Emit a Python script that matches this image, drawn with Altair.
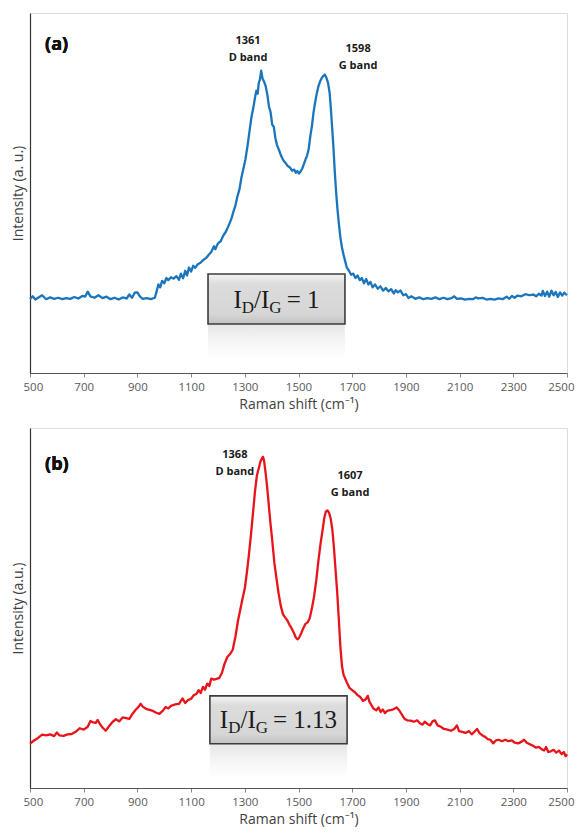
import altair as alt
import pandas as pd

# ---------------- data ----------------
shift_a = [500, 510, 520, 530, 545, 560, 575, 590, 605, 620, 635, 650, 665, 680, 695, 705, 715, 725, 740, 755,
           770, 785, 800, 815, 830, 845, 860, 870, 880, 890, 900, 910, 920, 935, 950, 965, 972, 978, 985, 992,
           1000, 1008, 1015, 1025, 1035, 1045, 1055, 1062, 1070, 1078, 1085, 1092, 1100, 1108, 1115, 1125, 1135, 1145, 1155, 1165,
           1175, 1185, 1190, 1200, 1210, 1220, 1230, 1240, 1250, 1258, 1265, 1272, 1280, 1288, 1295, 1302, 1310, 1318, 1325, 1332,
           1338, 1343, 1348, 1352, 1356, 1361, 1366, 1372, 1378, 1384, 1390, 1396, 1402, 1408, 1414, 1420, 1428, 1436, 1444, 1452,
           1460, 1468, 1476, 1484, 1490, 1496, 1502, 1508, 1514, 1520, 1526, 1532, 1538, 1544, 1550, 1556, 1562, 1568, 1574, 1580,
           1586, 1592, 1598, 1604, 1610, 1616, 1620, 1625, 1630, 1635, 1640, 1645, 1650, 1656, 1662, 1668, 1674, 1680, 1688, 1696,
           1704, 1712, 1720, 1728, 1736, 1744, 1752, 1760, 1768, 1776, 1785, 1795, 1805, 1815, 1825, 1835, 1845, 1855, 1862, 1870,
           1880, 1890, 1900, 1910, 1920, 1935, 1950, 1965, 1980, 1995, 2010, 2025, 2040, 2055, 2070, 2080, 2090, 2105, 2120, 2135,
           2150, 2160, 2170, 2185, 2200, 2215, 2230, 2245, 2260, 2275, 2285, 2295, 2305, 2315, 2330, 2345, 2360, 2375, 2385, 2395,
           2405, 2410, 2418, 2426, 2434, 2442, 2450, 2458, 2466, 2474, 2482, 2490, 2500]
intensity_a = [20.6, 21.3, 20.4, 20.9, 21.6, 20.5, 21.0, 20.6, 20.9, 20.5, 20.8, 20.6, 21.1, 20.7, 21.4, 21.2, 22.6, 21.3, 20.9, 21.6,
               20.8, 21.2, 20.5, 20.9, 20.4, 21.0, 20.7, 21.8, 20.9, 22.3, 22.4, 21.2, 20.6, 20.8, 20.5, 20.9, 22.8, 24.6, 23.8, 25.6,
               24.9, 26.4, 25.8, 26.6, 26.2, 26.9, 25.9, 27.6, 26.3, 28.4, 27.1, 29.3, 28.2, 29.8, 29.2, 30.2, 30.6, 31.4, 31.9, 32.8,
               33.6, 35.2, 34.4, 36.0, 36.6, 38.2, 39.3, 41.0, 42.8, 44.9, 46.5, 48.9, 51.0, 54.5, 56.8, 59.2, 63.0, 67.4, 71.2, 73.8,
               76.5, 78.4, 77.6, 80.6, 81.4, 84.0, 81.8, 80.9, 79.6, 77.3, 74.0, 72.5, 69.0, 68.4, 65.2, 63.3, 61.8, 60.2, 59.0, 58.3,
               57.5, 57.1, 56.2, 56.5, 55.6, 56.1, 55.4, 56.0, 56.8, 58.0, 59.3, 60.4, 62.2, 65.8, 68.6, 72.4, 75.2, 77.6, 79.6, 80.9,
               81.9, 82.5, 82.9, 82.0, 80.6, 77.8, 74.0, 68.5, 62.8, 56.0, 50.4, 45.6, 41.8, 37.6, 34.8, 32.8, 31.0, 29.3, 28.4, 27.3,
               27.6, 26.4, 27.1, 25.8, 26.4, 24.9, 26.1, 24.6, 25.3, 23.8, 24.6, 23.4, 24.1, 22.9, 23.6, 22.7, 23.3, 22.1, 23.0, 22.4,
               22.9, 21.6, 21.9, 20.8, 21.3, 20.6, 21.0, 20.5, 20.8, 20.6, 21.0, 20.5, 20.9, 20.5, 20.8, 21.3, 20.6, 20.7, 20.4, 20.6,
               20.5, 21.0, 20.7, 20.9, 20.4, 20.6, 20.4, 20.7, 20.5, 21.2, 20.6, 21.4, 20.9, 21.5, 21.3, 21.9, 21.6, 21.8, 21.3, 22.0,
               21.5, 22.8, 21.4, 22.6, 21.2, 22.9, 21.6, 22.5, 21.1, 22.4, 21.5, 22.3, 21.6]

shift_b = [500, 515, 530, 545, 560, 575, 590, 600, 610, 625, 640, 655, 670, 685, 700, 715, 725, 735, 745, 752,
           760, 770, 782, 795, 808, 820, 832, 845, 858, 870, 880, 892, 905, 912, 920, 932, 945, 958, 970, 982,
           995, 1005, 1015, 1025, 1040, 1055, 1068, 1078, 1088, 1100, 1110, 1120, 1128, 1136, 1144, 1152, 1160, 1168, 1175, 1185,
           1195, 1205, 1215, 1225, 1235, 1245, 1255, 1265, 1275, 1285, 1292, 1300, 1308, 1315, 1322, 1330, 1338, 1345, 1352, 1358,
           1364, 1368, 1372, 1378, 1384, 1390, 1396, 1402, 1410, 1418, 1426, 1434, 1442, 1450, 1458, 1466, 1474, 1482, 1490, 1496,
           1502, 1510, 1518, 1526, 1534, 1542, 1550, 1558, 1566, 1574, 1582, 1590, 1596, 1602, 1608, 1614, 1620, 1626, 1632, 1638,
           1644, 1650, 1656, 1662, 1668, 1675, 1682, 1690, 1700, 1710, 1720, 1730, 1740, 1750, 1758, 1764, 1770, 1780, 1790, 1798,
           1806, 1814, 1822, 1830, 1842, 1855, 1865, 1875, 1885, 1895, 1905, 1918, 1930, 1942, 1952, 1962, 1970, 1980, 1990, 2000,
           2008, 2018, 2030, 2042, 2055, 2068, 2080, 2090, 2098, 2110, 2122, 2135, 2145, 2155, 2165, 2175, 2185, 2195, 2205, 2215,
           2225, 2235, 2245, 2258, 2270, 2282, 2295, 2305, 2318, 2330, 2340, 2350, 2360, 2372, 2385, 2395, 2405, 2415, 2422, 2430,
           2440, 2450, 2460, 2470, 2480, 2488, 2495, 2500]
intensity_b = [12.3, 13.2, 13.9, 14.8, 14.6, 14.9, 14.4, 15.4, 14.6, 14.5, 14.9, 15.0, 15.6, 16.6, 16.2, 17.0, 18.6, 18.2, 18.1, 18.9,
               17.8, 16.8, 15.9, 17.2, 18.4, 19.1, 18.5, 19.6, 19.4, 19.2, 20.4, 21.6, 22.6, 23.4, 22.6, 22.0, 21.7, 21.4, 20.9, 20.6,
               21.5, 22.5, 22.1, 22.8, 23.2, 23.4, 24.9, 23.6, 24.4, 24.8, 25.8, 26.1, 27.2, 26.4, 28.1, 27.3, 29.0, 28.3, 30.4, 30.1,
               30.3, 30.6, 32.0, 34.6, 36.4, 37.2, 38.4, 42.0, 46.6, 50.2, 52.8, 55.4, 60.0, 64.6, 69.6, 76.0, 82.4, 86.8, 88.8, 90.6,
               91.6, 92.0, 90.8, 87.2, 83.0, 78.0, 73.2, 68.9, 62.6, 58.2, 54.0, 50.6, 48.3, 47.4, 46.6, 45.4, 44.4, 43.2, 41.8, 41.3,
               41.7, 43.0, 44.4, 45.6, 46.0, 47.2, 50.0, 53.2, 57.6, 63.0, 67.8, 71.8, 75.0, 76.8, 77.1, 76.4, 74.8, 71.8, 66.8, 60.6,
               54.5, 47.0, 39.2, 33.8, 31.4, 30.2, 29.0, 27.8, 27.2, 26.6, 25.8, 25.3, 24.2, 24.6, 25.6, 24.0, 23.2, 22.0, 21.6, 22.4,
               21.1, 21.8, 20.8, 21.4, 21.6, 21.9, 22.4, 21.6, 20.4, 19.2, 18.8, 18.7, 18.4, 18.8, 18.0, 17.6, 18.4, 17.8, 17.4, 18.6,
               18.8, 17.4, 17.0, 16.4, 16.2, 15.9, 16.4, 17.4, 15.8, 15.6, 15.3, 15.8, 14.9, 15.6, 16.4, 15.2, 14.6, 14.2, 13.6, 13.4,
               12.4, 13.2, 13.4, 13.0, 13.4, 13.0, 13.2, 12.6, 12.4, 12.8, 13.4, 12.6, 12.2, 11.8, 11.2, 11.4, 10.8, 10.4, 11.4, 10.0,
               10.2, 10.6, 9.8, 10.4, 9.4, 10.0, 8.8, 9.4]

x_ticks = [500, 700, 900, 1100, 1300, 1500, 1700, 1900, 2100, 2300, 2500]

# peak annotations: (shift, intensity, text)
peaks_a = {"x": [1312, 1312, 1722, 1722], "y": [92.2, 87.4, 90.0, 85.4], "text": ["1361", "D band", "1598", "G band"]}
peaks_b = {"x": [1263, 1263, 1692, 1692], "y": [92.5, 87.8, 86.7, 81.9], "text": ["1368", "D band", "1607", "G band"]}

# ratio box: x1, x2, y1 (top), y2 (bottom), text baseline
box_a = {"x1": 1163, "x2": 1673, "y1": 27.5, "y2": 13.6, "base": 18.0}
box_b = {"x1": 1170, "x2": 1681, "y1": 25.6, "y2": 12.3, "base": 16.8}
ratio_a = "= 1"
ratio_b = "= 1.13"

FONT = "Open Sans"
SERIF = "Liberation Serif"
XT = "Raman shift (cm⁻¹)"

xs = alt.Scale(domain=[500, 2500], nice=False, zero=False)
ys = alt.Scale(domain=[0, 100], nice=False, zero=False)

box_grad = alt.LinearGradient(
    gradient="linear", x1=0, x2=0, y1=0, y2=1,
    stops=[alt.GradientStop(color="#f4f4f4", offset=0),
           alt.GradientStop(color="#dcdcdc", offset=0.2),
           alt.GradientStop(color="#d6d6d6", offset=0.8),
           alt.GradientStop(color="#c2c2c2", offset=1)])
refl_grad = alt.LinearGradient(
    gradient="linear", x1=0, x2=0, y1=0, y2=1,
    stops=[alt.GradientStop(color="#e2e2e2", offset=0),
           alt.GradientStop(color="#f3f3f3", offset=0.5),
           alt.GradientStop(color="#ffffff", offset=1)])


def panel(shift, inten, color, tag, tag_y, peaks, box, rest, ytitle):
    df = pd.DataFrame({"shift": shift, "intensity": inten})
    line = alt.Chart(df).mark_line(color=color, strokeWidth=2.3, strokeJoin="round").encode(
        x=alt.X("shift:Q", scale=xs, title=XT,
                axis=alt.Axis(values=x_ticks, format="d", labelFlush=True, labelFlushOffset=7,
                              labelOverlap=False)),
        y=alt.Y("intensity:Q", scale=ys, title=ytitle),
    )
    bdf = pd.DataFrame([box])
    refl = alt.Chart(bdf).transform_calculate(r2="datum.y2 - 9.5").mark_rect(
        fill=refl_grad, opacity=0.85).encode(
        x=alt.X("x1:Q", scale=xs, title=XT), x2="x2:Q",
        y=alt.Y("y2:Q", scale=ys, title=ytitle), y2="r2:Q")
    rect = alt.Chart(bdf).mark_rect(fill=box_grad, stroke="#3c3c3c", strokeWidth=1.6).encode(
        x=alt.X("x1:Q", scale=xs, title=XT), x2="x2:Q",
        y=alt.Y("y1:Q", scale=ys, title=ytitle), y2="y2:Q")

    cx = (box["x1"] + box["x2"]) / 2
    main, sub = 25, 17
    w_I, w_sub, w_sl = 0.333 * main, 0.722 * sub, 0.278 * main
    gap = 5
    rest_w = sum({" ": 0.25, "=": 0.564, ".": 0.25}.get(c, 0.5) for c in rest) * main
    total = w_I + w_sub + w_sl + w_I + w_sub + gap + rest_w
    start = -total / 2
    pieces = [("I", 0, main, 0), ("D", w_I, sub, 5), ("/I", w_I + w_sub, main, 0),
              ("G", w_I + w_sub + w_sl + w_I, sub, 5), (rest, 2 * w_I + 2 * w_sub + w_sl + gap, main, 0)]
    txt_layers = []
    for t, off, fs, dy in pieces:
        txt_layers.append(
            alt.Chart(bdf).mark_text(text=t, font=SERIF, fontSize=fs, color="#1a1a1a", align="left",
                                     baseline="alphabetic", dx=start + off, dy=dy).encode(
                x=alt.datum(cx, scale=xs, title=XT), y=alt.datum(box["base"], scale=ys, title=ytitle)))

    pdf = pd.DataFrame(peaks)
    ann = alt.Chart(pdf).mark_text(font=FONT, fontSize=11, fontWeight="bold", color="#1a1a1a",
                                   baseline="middle", align="center").encode(
        x=alt.X("x:Q", scale=xs, title=XT), y=alt.Y("y:Q", scale=ys, title=ytitle), text="text:N")
    tagc = alt.Chart(pdf).mark_text(text=tag, font=FONT, fontSize=18, fontWeight="bold", color="#111111",
                                    align="left", baseline="alphabetic").encode(
        x=alt.datum(556, scale=xs, title=XT), y=alt.datum(tag_y, scale=ys, title=ytitle))

    return alt.layer(line, refl, rect, *txt_layers, ann, tagc).properties(width=537, height=360)


pa = panel(shift_a, intensity_a, "#1b75bc", "(a)", 89.6, peaks_a, box_a, ratio_a, "Intensity (a. u.)")
pb = panel(shift_b, intensity_b, "#e8141a", "(b)", 88.4, peaks_b, box_b, ratio_b, "Intensity (a.u.)")

chart = alt.vconcat(pa, pb, spacing=15).properties(
    padding={"left": 2, "top": 4, "right": 0, "bottom": 0}
).configure_view(stroke="#a6a6a6", strokeWidth=1.5).configure(background="white").configure_axisX(
    grid=False, tickSize=4, tickColor="#888888",
    domainColor="#555555", domainWidth=1.2, labelFont=FONT, labelFontSize=11.5,
    labelColor="#595959", labelPadding=4, titleFont=FONT, titleFontSize=14,
    titleFontWeight="normal", titleColor="#404040", titlePadding=5
).configure_axisY(
    labels=False, ticks=False, grid=False, domainColor="#333333",
    domainWidth=1.2, titleFont=FONT, titleFontSize=14, titleFontWeight="normal",
    titleColor="#404040", titlePadding=5
)

chart.save("out.html", embed_options={"renderer": "svg", "actions": False})
